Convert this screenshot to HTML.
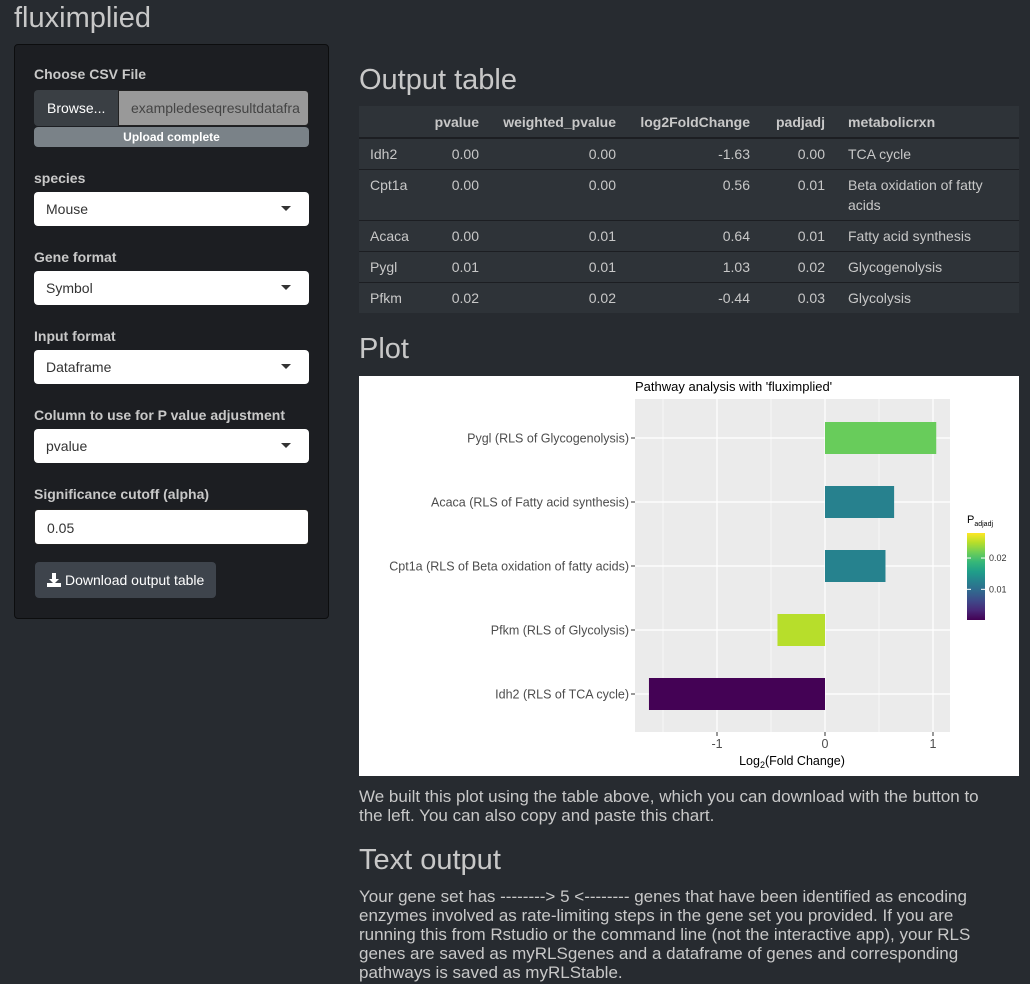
<!DOCTYPE html>
<html><head><meta charset="utf-8">
<style>
*{box-sizing:border-box;margin:0;padding:0}
body{width:1030px;height:984px;background:#272b30;font-family:"Liberation Sans",sans-serif;color:#c8c8c8;position:relative;overflow:hidden}
.abs{position:absolute}
h1{position:absolute;left:14px;top:2px;font-size:29px;font-weight:normal;color:#c8c8c8}
.side{left:14px;top:44px;width:315px;height:575px;background:#1c1e22;border:1px solid #0c0d0e;border-radius:4px}
.lab{position:absolute;left:34px;font-size:14px;font-weight:bold;color:#c8c8c8}
.sel{position:absolute;left:34px;width:275px;height:34px;background:#fff;border-radius:4px;color:#333;font-size:14px;padding:9px 12px}
.sel:after{content:"";position:absolute;right:18px;top:14px;border-left:5px solid transparent;border-right:5px solid transparent;border-top:5px solid #333}
h2{position:absolute;font-size:29px;font-weight:normal;color:#c8c8c8}
table{position:absolute;left:359px;top:106px;width:660px;border-collapse:collapse;table-layout:fixed;background:#2e3338;font-size:14px;color:#c8c8c8}
th{height:32px;text-align:right;padding:0 8px;font-weight:bold;border-bottom:2px solid #1c1e22}
td{padding:5px 8px 5px;text-align:right;vertical-align:top;border-top:1px solid #1c1e22;line-height:20px}
td:first-child,th:first-child{text-align:left;padding-left:11px}
td:last-child,th:last-child{text-align:left;padding-left:15px}
p{position:absolute;left:359px;width:638px;font-size:17px;line-height:19px;color:#c8c8c8}
</style></head><body>
<h1>fluximplied</h1>
<div class="abs side"></div>
<div class="lab" style="top:66px">Choose CSV File</div>
<div class="abs" style="left:34px;top:90px;width:84px;height:36px;background:#3a3f44;border-radius:4px 0 0 4px;color:#fff;font-size:14px;padding:10px 0 0 13px">Browse...</div>
<div class="abs" style="left:118px;top:90px;width:191px;height:36px;background:#999;border:1px solid #222;border-radius:0 4px 4px 0;color:#444;font-size:14px;padding:9px 12px;overflow:hidden;white-space:nowrap">exampledeseqresultdatafra</div>
<div class="abs" style="left:34px;top:127px;width:275px;height:20px;background:#7a8288;border-radius:4px;color:#fff;font-size:12px;font-weight:bold;text-align:center;padding-top:3px">Upload complete</div>
<div class="lab" style="top:170px">species</div>
<div class="sel" style="top:192px">Mouse</div>
<div class="lab" style="top:249px">Gene format</div>
<div class="sel" style="top:271px">Symbol</div>
<div class="lab" style="top:328px">Input format</div>
<div class="sel" style="top:350px">Dataframe</div>
<div class="lab" style="top:407px">Column to use for P value adjustment</div>
<div class="sel" style="top:429px">pvalue</div>
<div class="lab" style="top:486px">Significance cutoff (alpha)</div>
<div class="abs" style="left:34px;top:509px;width:275px;height:36px;background:#fff;border:1px solid #222;border-radius:4px;color:#333;font-size:14px;padding:10px 12px">0.05</div>
<div class="abs" style="left:35px;top:562px;width:181px;height:36px;background:#3e444c;border-radius:4px;color:#fff;font-size:14px;padding:10px 0 0 30px"><svg style="position:absolute;left:12px;top:11px" width="14" height="14"><rect x="5" y="0" width="4" height="6" fill="#fff"/><polygon points="2,6 12,6 7,11" fill="#fff"/><rect x="0" y="10" width="14" height="4" fill="#fff"/></svg>Download output table</div>

<h2 style="left:359px;top:64px">Output table</h2>
<table>
<colgroup><col style="width:66px"><col style="width:62px"><col style="width:137px"><col style="width:134px"><col style="width:75px"><col></colgroup>
<tr><th></th><th>pvalue</th><th>weighted_pvalue</th><th>log2FoldChange</th><th>padjadj</th><th>metabolicrxn</th></tr>
<tr><td>Idh2</td><td>0.00</td><td>0.00</td><td>-1.63</td><td>0.00</td><td>TCA cycle</td></tr>
<tr><td>Cpt1a</td><td>0.00</td><td>0.00</td><td>0.56</td><td>0.01</td><td>Beta oxidation of fatty acids</td></tr>
<tr><td>Acaca</td><td>0.00</td><td>0.01</td><td>0.64</td><td>0.01</td><td>Fatty acid synthesis</td></tr>
<tr><td>Pygl</td><td>0.01</td><td>0.01</td><td>1.03</td><td>0.02</td><td>Glycogenolysis</td></tr>
<tr><td>Pfkm</td><td>0.02</td><td>0.02</td><td>-0.44</td><td>0.03</td><td>Glycolysis</td></tr>
</table>

<h2 style="left:359px;top:333px">Plot</h2>
<svg class="abs" style="left:359px;top:376px;background:#fff" width="660" height="400" id="chart" font-family="Liberation Sans, sans-serif"></svg>

<p style="top:787px">We built this plot using the table above, which you can download with the button to the left. You can also copy and paste this chart.</p>
<h2 style="left:359px;top:844px">Text output</h2>
<p style="top:887px">Your gene set has --------&gt; 5 &lt;-------- genes that have been identified as encoding enzymes involved as rate-limiting steps in the gene set you provided. If you are running this from Rstudio or the command line (not the interactive app), your RLS genes are saved as myRLSgenes and a dataframe of genes and corresponding pathways is saved as myRLStable.</p>

<script>
const categories=["Pygl (RLS of Glycogenolysis)","Acaca (RLS of Fatty acid synthesis)","Cpt1a (RLS of Beta oxidation of fatty acids)","Pfkm (RLS of Glycolysis)","Idh2 (RLS of TCA cycle)"];
const foldChange=[1.03,0.64,0.56,-0.44,-1.63];
const padj=[0.0215,0.0124,0.0126,0.0250,0.0003];
const xTicks=[-1,0,1];
const xTickLabels=["-1","0","1"];
const legendTicks=[0.01,0.02];
const legendTickLabels=["0.01","0.02"];

const NS="http://www.w3.org/2000/svg";
const svg=document.getElementById('chart');
function mk(t,a,p){const e=document.createElementNS(NS,t);for(const k in a)e.setAttribute(k,a[k]);(p||svg).appendChild(e);return e;}
const PL=276,PR=591,PT=23,PB=356;
const x=v=>466+v*108;
const band=(PB-PT-10)/categories.length;
const y=i=>PT+39+band*i*(64/band);
const viridis=["#440154","#482878","#3e4989","#31688e","#26828e","#1f9e89","#35b779","#6ece58","#b5de2b","#fde725"];
const cmin=0.0002,cmax=0.028;
function col(v){let t=Math.max(0,Math.min(1,(v-cmin)/(cmax-cmin)))*(viridis.length-1);let i=Math.min(viridis.length-2,Math.floor(t)),f=t-i;
 const a=viridis[i],b=viridis[i+1];const c=k=>Math.round(parseInt(a.substr(k,2),16)*(1-f)+parseInt(b.substr(k,2),16)*f);return `rgb(${c(1)},${c(3)},${c(5)})`;}

mk('rect',{x:0,y:0,width:660,height:400,fill:'#fff'});
const title=mk('text',{x:276,y:15,'font-size':13,fill:'#000'});title.textContent="Pathway analysis with 'fluximplied'";


const panel=mk('rect',{x:PL,y:PT,width:PR-PL,height:PB-PT,fill:'#ebebeb'});


for(let i=0;i<xTicks.length-1;i++){const m=(xTicks[i]+xTicks[i+1])/2;mk('line',{x1:x(m),x2:x(m),y1:PT,y2:PB,stroke:'#fff','stroke-width':0.6});}
mk('line',{x1:x(-1.5),x2:x(-1.5),y1:PT,y2:PB,stroke:'#fff','stroke-width':0.6});
xTicks.forEach((t,i)=>{mk('line',{x1:x(t),x2:x(t),y1:PT,y2:PB,stroke:'#fff','stroke-width':1.2});
 mk('line',{x1:x(t),x2:x(t),y1:PB,y2:PB+4,stroke:'#333'});
 const tl=mk('text',{x:x(t),y:PB+16,'text-anchor':'middle','font-size':12.5,fill:'#4d4d4d'});tl.textContent=xTickLabels[i];
 
 });
categories.forEach((c,i)=>{mk('line',{x1:PL,x2:PR,y1:y(i),y2:y(i),stroke:'#fff','stroke-width':1.2});});
categories.forEach((c,i)=>{
 const v=foldChange[i];const r=mk('rect',{x:Math.min(x(0),x(v)),y:y(i)-16,width:Math.abs(x(v)-x(0)),height:32,fill:col(padj[i])});
 
 
 mk('line',{x1:PL-4,x2:PL,y1:y(i),y2:y(i),stroke:'#333'});
 const l=mk('text',{x:PL-6,y:y(i)+4.5,'text-anchor':'end','font-size':12.5,fill:'#4d4d4d'});l.textContent=c;
 
 
});
const xt=mk('text',{x:433,y:389,'text-anchor':'middle','font-size':12.5,fill:'#000'});
xt.innerHTML='Log<tspan font-size="9" dy="3">2</tspan><tspan dy="-3">(Fold Change)</tspan>';


const lt=mk('text',{x:608,y:147,'font-size':11,fill:'#000'});lt.innerHTML='P<tspan font-size="7" dy="3">adjadj</tspan>';


const defs=mk('defs',{});const g=mk('linearGradient',{id:'vg',x1:0,y1:1,x2:0,y2:0},defs);
viridis.forEach((c,i)=>mk('stop',{offset:i/(viridis.length-1),'stop-color':c},g));
const LT=157,LB=244;const ly=v=>LB-(v-cmin)/(cmax-cmin)*(LB-LT);
const cb=mk('rect',{x:608,y:LT,width:18,height:LB-LT,fill:'url(#vg)'});


legendTicks.forEach((t,i)=>{mk('line',{x1:608,x2:612,y1:ly(t),y2:ly(t),stroke:'#fff'});mk('line',{x1:622,x2:626,y1:ly(t),y2:ly(t),stroke:'#fff'});
 const tl=mk('text',{x:630,y:ly(t)+3,'font-size':9,fill:'#333'});tl.textContent=legendTickLabels[i];
 
 });
</script>
</body></html>
